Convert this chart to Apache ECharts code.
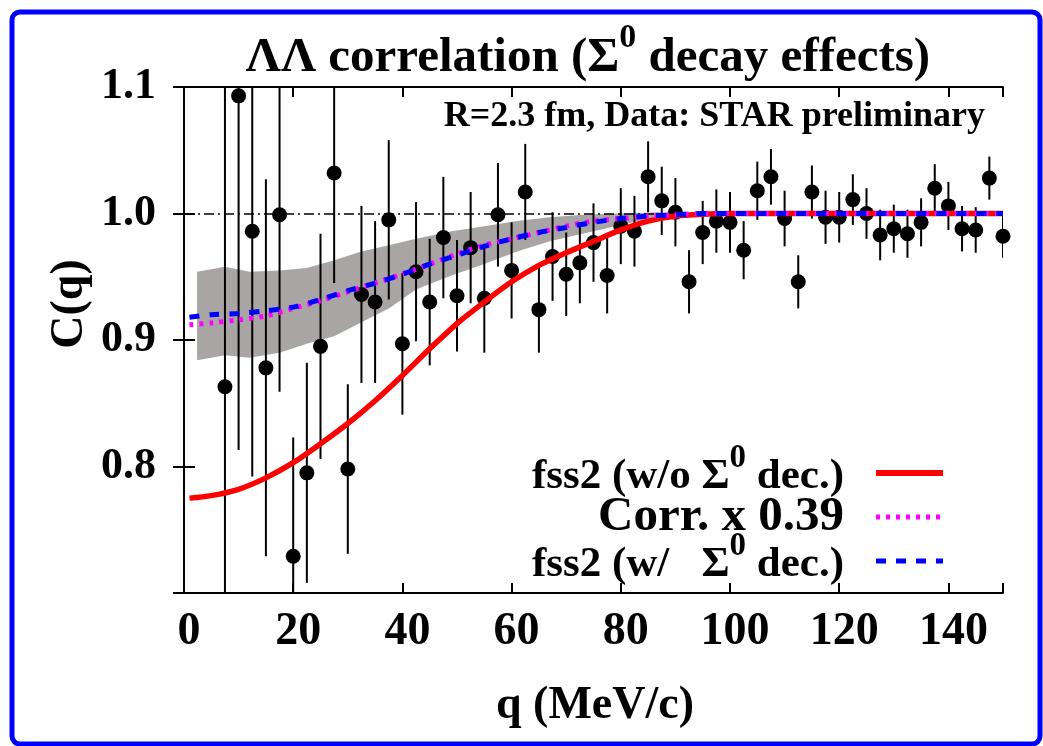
<!DOCTYPE html>
<html>
<head>
<meta charset="utf-8">
<script src="https://cdn.jsdelivr.net/npm/echarts@6/dist/echarts.min.js"></script>
<style>
  html, body { margin: 0; padding: 0; background: #fff; }
  #chart1 { width: 1043px; height: 746px; }
</style>
</head>
<body>
<div id="chart1"></div>
<script>
// data points (q in MeV/c, C(q), error)
var qData = [7.5, 10, 12.5, 15, 17.5, 20, 22.5, 25, 27.5, 30, 32.5, 35, 37.5, 40, 42.5, 45, 47.5, 50, 52.5, 55,
  57.5, 60, 62.5, 65, 67.5, 70, 72.5, 75, 77.5, 80, 82.5, 85, 87.5, 90, 92.5, 95, 97.5, 100, 102.5, 105,
  107.5, 110, 112.5, 115, 117.5, 120, 122.5, 125, 127.5, 130, 132.5, 135, 137.5, 140, 142.5, 145, 147.5, 150];
var cData = [0.863, 1.093, 0.986, 0.878, 0.999, 0.729, 0.795, 0.895, 1.032, 0.798,
  0.936, 0.930, 0.995, 0.897, 0.954, 0.930, 0.981, 0.935, 0.973, 0.933,
  0.999, 0.955, 1.017, 0.924, 0.966, 0.952, 0.961, 0.977, 0.951, 0.990,
  0.986, 1.029, 1.010, 1.001, 0.946, 0.985, 0.994, 0.993, 0.971, 1.018,
  1.029, 0.996, 0.946, 1.017, 0.997, 0.997, 1.011, 1.000, 0.983, 0.988,
  0.984, 0.993, 1.020, 1.006, 0.988, 0.987, 1.028, 0.982];
var cErr = [0.36, 0.28, 0.194, 0.149, 0.14, 0.094, 0.087, 0.089, 0.087, 0.067,
  0.07, 0.064, 0.063, 0.056, 0.055, 0.05, 0.048, 0.044, 0.044, 0.043,
  0.041, 0.038, 0.038, 0.034, 0.035, 0.033, 0.032, 0.031, 0.030, 0.030,
  0.028, 0.028, 0.027, 0.027, 0.025, 0.025, 0.025, 0.024, 0.023, 0.023,
  0.022, 0.022, 0.021, 0.021, 0.021, 0.020, 0.020, 0.020, 0.020, 0.019,
  0.019, 0.019, 0.019, 0.019, 0.018, 0.018, 0.017, 0.017];

// model curves
var curveQ = [1, 5, 10, 15, 20, 25, 30, 35, 40, 45, 50, 55, 60, 65, 70, 75, 80, 85, 90, 95, 100, 110, 120, 130, 140, 150];
var redC = [0.775, 0.777, 0.782, 0.791, 0.803, 0.818, 0.834, 0.852, 0.872, 0.893, 0.913, 0.930, 0.946,
  0.959, 0.969, 0.978, 0.987, 0.994, 0.998, 0.9995, 1.0, 1.0, 1.0, 1.0, 1.0, 1.0];
var magC = [0.912, 0.9135, 0.916, 0.919, 0.925, 0.931, 0.938, 0.945, 0.952, 0.960, 0.968, 0.975, 0.980,
  0.985, 0.990, 0.994, 0.996, 0.998, 0.999, 1.0, 1.0, 1.0, 1.0, 1.0, 1.0, 1.0];
var blueC = [0.918, 0.920, 0.921, 0.923, 0.926, 0.932, 0.939, 0.945, 0.952, 0.960, 0.967, 0.974, 0.980,
  0.985, 0.989, 0.993, 0.996, 0.998, 0.999, 1.0, 1.0, 1.0, 1.0, 1.0, 1.0, 1.0];

// gray uncertainty band
var bandQ = [2.4, 7.5, 12, 17.5, 22.5, 27.5, 32.5, 37.5, 42.5, 49, 55, 61, 67, 73, 80, 87];
var bandHi = [0.954, 0.958, 0.954, 0.955, 0.957, 0.963, 0.970, 0.975, 0.980, 0.986, 0.990, 0.994, 0.997, 0.999, 1.000, 1.001];
var bandLo = [0.884, 0.888, 0.886, 0.890, 0.897, 0.903, 0.914, 0.925, 0.940, 0.951, 0.960, 0.970, 0.978, 0.984, 0.991, 0.998];

var FONT = '"Liberation Serif", "Times New Roman", serif';

function pairs(xs, ys) {
  var out = [];
  for (var i = 0; i < xs.length; i++) out.push([xs[i], ys[i]]);
  return out;
}

var errData = [];
for (var i = 0; i < qData.length; i++) errData.push([qData[i], cData[i], cErr[i]]);

// superscript "0": tall padded token placed at the top of the line
var supTitle = {
  s: { fontSize: 34, fontWeight: 'bold', fontFamily: FONT, verticalAlign: 'top', padding: [0, 0, 40, 0], fill: '#000' }
};
var supLegend = {
  s: { fontSize: 33, fontWeight: 'bold', fontFamily: FONT, verticalAlign: 'top', padding: [0, 0, 37, 0], fill: '#000' }
};

var chart1 = echarts.init(document.getElementById('chart1'));

var option = {
  backgroundColor: '#fff',
  animation: false,
  grid: { left: 184, right: 40, top: 87, bottom: 153 },
  xAxis: [{
    type: 'value', min: 0, max: 150, interval: 20,
    axisLine: { lineStyle: { color: '#000', width: 2 } },
    axisTick: { inside: true, length: 10, lineStyle: { color: '#000', width: 2 } },
    axisLabel: {
      margin: 16, color: '#000', fontSize: 46, fontWeight: 'bold', fontFamily: FONT,
      padding: [0, 0, 0, 10],
      formatter: function (v) { return v > 145 ? '' : String(v); }
    },
    splitLine: { show: false }
  }, {
    type: 'value', min: 0, max: 150, interval: 20, position: 'top',
    axisLine: { lineStyle: { color: '#000', width: 2 } },
    axisTick: { inside: true, length: 10, lineStyle: { color: '#000', width: 2 } },
    axisLabel: { show: false },
    splitLine: { show: false }
  }],
  yAxis: [{
    type: 'value', min: 0.7, max: 1.1, interval: 0.1,
    axisLine: { lineStyle: { color: '#000', width: 2 } },
    axisTick: { inside: true, length: 11, lineStyle: { color: '#000', width: 2 } },
    axisLabel: {
      margin: 28, color: '#000', fontSize: 44, fontWeight: 'bold', fontFamily: FONT,
      formatter: function (v) { return v < 0.75 ? '' : v.toFixed(1); }
    },
    splitLine: { show: false }
  }, {
    type: 'value', min: 0.7, max: 1.1, interval: 0.1, position: 'right',
    axisLine: { lineStyle: { color: '#000', width: 2 } },
    axisTick: { inside: true, length: 11, lineStyle: { color: '#000', width: 2 } },
    axisLabel: { show: false },
    splitLine: { show: false }
  }],
  series: [
    {
      // gray band
      type: 'custom',
      silent: true,
      z: 1,
      data: [[bandQ[0], bandLo[0]]],
      renderItem: function (params, api) {
        var pts = [];
        for (var i = 0; i < bandQ.length; i++) pts.push(api.coord([bandQ[i], bandHi[i]]));
        for (var j = bandQ.length - 1; j >= 0; j--) pts.push(api.coord([bandQ[j], bandLo[j]]));
        return { type: 'polygon', shape: { points: pts }, style: { fill: '#a9a5a5' } };
      }
    },
    {
      // C(q) = 1 reference
      type: 'line',
      silent: true,
      z: 2,
      data: [],
      markLine: {
        silent: true,
        symbol: 'none',
        label: { show: false },
        lineStyle: { color: '#000', width: 1.5, type: [10, 4, 2, 4] },
        data: [{ yAxis: 1.0 }]
      }
    },
    {
      // error bars
      type: 'custom',
      silent: true,
      clip: true,
      z: 3,
      data: errData,
      renderItem: function (params, api) {
        var q = api.value(0), c = api.value(1), e = api.value(2);
        var p1 = api.coord([q, c + e]);
        var p2 = api.coord([q, c - e]);
        return {
          type: 'line',
          shape: { x1: p1[0], y1: p1[1], x2: p2[0], y2: p2[1] },
          style: { stroke: '#000', lineWidth: 2 }
        };
      }
    },
    {
      type: 'scatter',
      z: 4,
      symbol: 'circle',
      symbolSize: 15,
      itemStyle: { color: '#000', opacity: 1 },
      data: pairs(qData, cData)
    },
    {
      name: 'fss2 (w/o Sigma0 dec.)',
      type: 'line', z: 5, smooth: 0.3, showSymbol: false,
      lineStyle: { color: '#ff0000', width: 5.5 },
      data: pairs(curveQ, redC)
    },
    {
      name: 'Corr. x 0.39',
      type: 'line', z: 6, smooth: 0.3, showSymbol: false,
      lineStyle: { color: '#ff00ff', width: 5, type: [4, 6] },
      data: pairs(curveQ, magC)
    },
    {
      name: 'fss2 (w/ Sigma0 dec.)',
      type: 'line', z: 7, smooth: 0.3, showSymbol: false,
      lineStyle: { color: '#0000ff', width: 5, type: [10, 10] },
      data: pairs(curveQ, blueC)
    }
  ],
  graphic: [
    {
      type: 'rect', z: 100, silent: true,
      shape: { x: 12, y: 12, width: 1028, height: 732, r: 8 },
      style: { fill: 'none', stroke: '#0000ff', lineWidth: 5 }
    },
    {
      type: 'text', z: 100,
      style: {
        x: 588, y: 58, align: 'center', verticalAlign: 'middle',
        text: 'ΛΛ correlation (Σ{s|0} decay effects)',
        fontSize: 49, fontWeight: 'bold', fontFamily: FONT, fill: '#000',
        rich: supTitle
      }
    },
    {
      type: 'text', z: 100,
      style: {
        x: 985, y: 117, align: 'right', verticalAlign: 'middle',
        text: 'R=2.3 fm, Data: STAR preliminary',
        fontSize: 36, fontWeight: 'bold', fontFamily: FONT, fill: '#000'
      }
    },
    {
      type: 'text', z: 100,
      rotation: Math.PI / 2,
      x: 70, y: 304,
      style: {
        x: 0, y: 0, align: 'center', verticalAlign: 'middle',
        text: 'C(q)',
        fontSize: 46, fontWeight: 'bold', fontFamily: FONT, fill: '#000'
      }
    },
    {
      type: 'text', z: 100,
      style: {
        x: 595, y: 706, align: 'center', verticalAlign: 'middle',
        text: 'q (MeV/c)',
        fontSize: 46, fontWeight: 'bold', fontFamily: FONT, fill: '#000'
      }
    },
    // legend
    {
      type: 'text', z: 100,
      style: {
        x: 844, y: 477, align: 'right', verticalAlign: 'middle',
        text: 'fss2 (w/o Σ{s|0} dec.)',
        fontSize: 43, fontWeight: 'bold', fontFamily: FONT, fill: '#000',
        rich: supLegend
      }
    },
    {
      type: 'text', z: 100,
      style: {
        x: 844, y: 517, align: 'right', verticalAlign: 'middle',
        text: 'Corr. x 0.39',
        fontSize: 49, fontWeight: 'bold', fontFamily: FONT, fill: '#000'
      }
    },
    {
      type: 'text', z: 100,
      style: {
        x: 844, y: 565, align: 'right', verticalAlign: 'middle',
        text: 'fss2 (w/   Σ{s|0} dec.)',
        fontSize: 43, fontWeight: 'bold', fontFamily: FONT, fill: '#000',
        rich: supLegend
      }
    },
    {
      type: 'line', z: 100, silent: true,
      shape: { x1: 876, y1: 473, x2: 943, y2: 473 },
      style: { stroke: '#ff0000', lineWidth: 6 }
    },
    {
      type: 'line', z: 100, silent: true,
      shape: { x1: 876, y1: 517, x2: 943, y2: 517 },
      style: { stroke: '#ff00ff', lineWidth: 5, lineDash: [4, 6] }
    },
    {
      type: 'line', z: 100, silent: true,
      shape: { x1: 876, y1: 561, x2: 943, y2: 561 },
      style: { stroke: '#0000ff', lineWidth: 5, lineDash: [10, 10] }
    }
  ]
};

chart1.setOption(option);
</script>
</body>
</html>
